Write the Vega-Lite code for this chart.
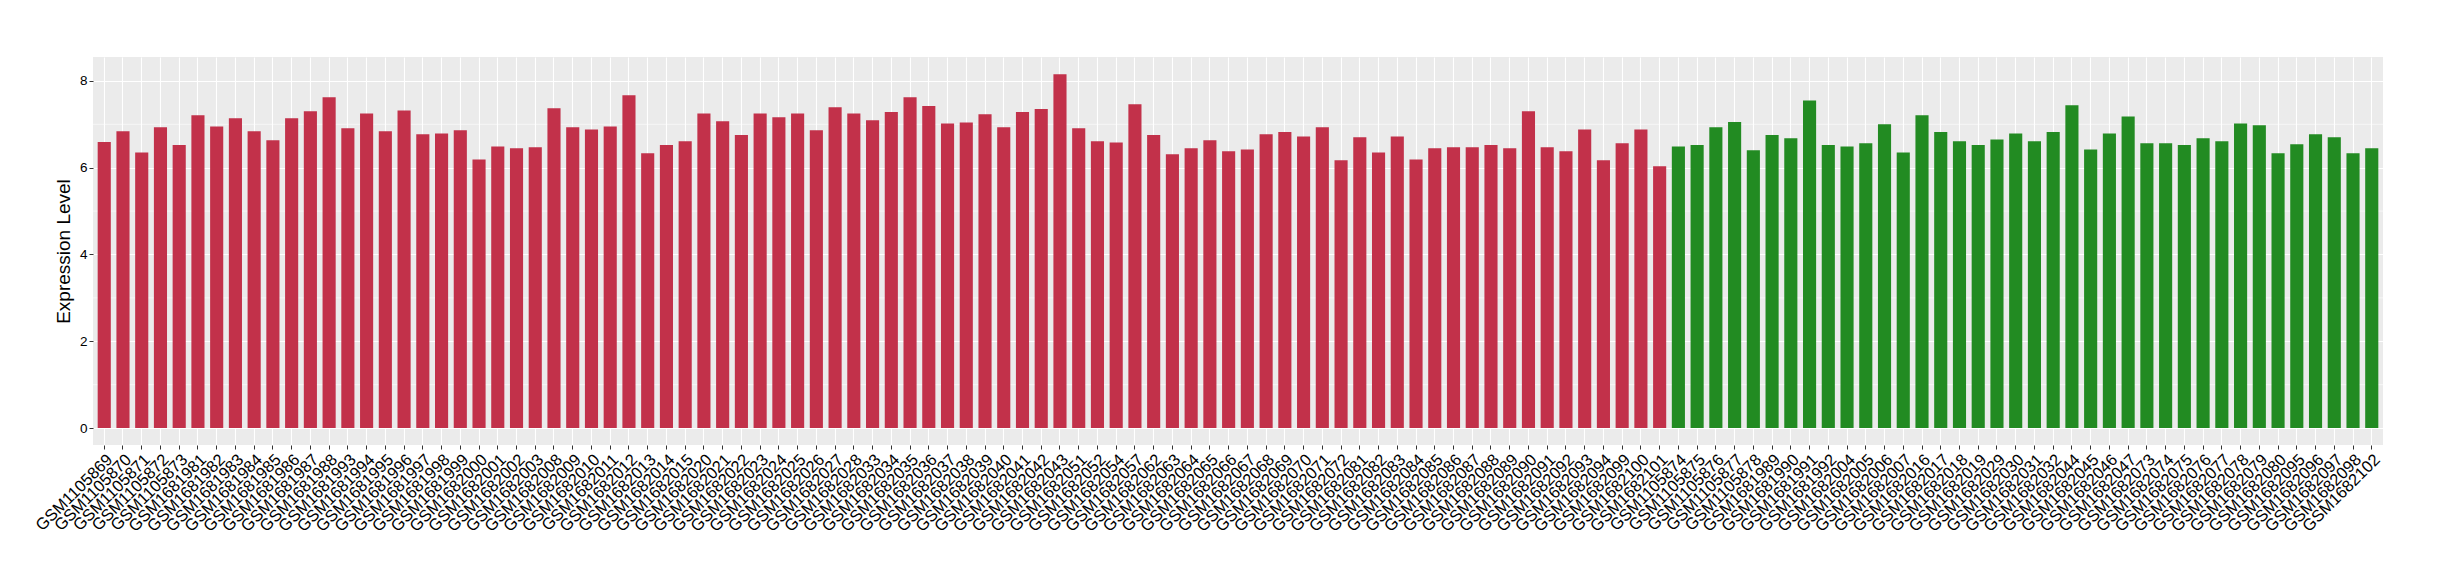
{
  "$schema": "https://vega.github.io/schema/vega-lite/v6.json",
  "autosize": {"type": "none"},
  "width": 2290,
  "height": 388,
  "padding": {"left": 93, "top": 57, "right": 57, "bottom": 135},
  "background": "white",
  "config": {
    "font": "Liberation Sans",
    "view": {"fill": "#EBEBEB", "stroke": null}
  },
  "datasets": {
    "expr": [
      {"sample": "GSM1105869", "value": 6.59, "group": "Group 1"},
      {"sample": "GSM1105870", "value": 6.84, "group": "Group 1"},
      {"sample": "GSM1105871", "value": 6.35, "group": "Group 1"},
      {"sample": "GSM1105872", "value": 6.93, "group": "Group 1"},
      {"sample": "GSM1105873", "value": 6.52, "group": "Group 1"},
      {"sample": "GSM1681981", "value": 7.21, "group": "Group 1"},
      {"sample": "GSM1681982", "value": 6.95, "group": "Group 1"},
      {"sample": "GSM1681983", "value": 7.14, "group": "Group 1"},
      {"sample": "GSM1681984", "value": 6.84, "group": "Group 1"},
      {"sample": "GSM1681985", "value": 6.63, "group": "Group 1"},
      {"sample": "GSM1681986", "value": 7.14, "group": "Group 1"},
      {"sample": "GSM1681987", "value": 7.30, "group": "Group 1"},
      {"sample": "GSM1681988", "value": 7.62, "group": "Group 1"},
      {"sample": "GSM1681993", "value": 6.91, "group": "Group 1"},
      {"sample": "GSM1681994", "value": 7.25, "group": "Group 1"},
      {"sample": "GSM1681995", "value": 6.84, "group": "Group 1"},
      {"sample": "GSM1681996", "value": 7.32, "group": "Group 1"},
      {"sample": "GSM1681997", "value": 6.77, "group": "Group 1"},
      {"sample": "GSM1681998", "value": 6.79, "group": "Group 1"},
      {"sample": "GSM1681999", "value": 6.86, "group": "Group 1"},
      {"sample": "GSM1682000", "value": 6.19, "group": "Group 1"},
      {"sample": "GSM1682001", "value": 6.49, "group": "Group 1"},
      {"sample": "GSM1682002", "value": 6.45, "group": "Group 1"},
      {"sample": "GSM1682003", "value": 6.47, "group": "Group 1"},
      {"sample": "GSM1682008", "value": 7.37, "group": "Group 1"},
      {"sample": "GSM1682009", "value": 6.93, "group": "Group 1"},
      {"sample": "GSM1682010", "value": 6.88, "group": "Group 1"},
      {"sample": "GSM1682011", "value": 6.95, "group": "Group 1"},
      {"sample": "GSM1682012", "value": 7.67, "group": "Group 1"},
      {"sample": "GSM1682013", "value": 6.33, "group": "Group 1"},
      {"sample": "GSM1682014", "value": 6.52, "group": "Group 1"},
      {"sample": "GSM1682015", "value": 6.61, "group": "Group 1"},
      {"sample": "GSM1682020", "value": 7.25, "group": "Group 1"},
      {"sample": "GSM1682021", "value": 7.07, "group": "Group 1"},
      {"sample": "GSM1682022", "value": 6.75, "group": "Group 1"},
      {"sample": "GSM1682023", "value": 7.25, "group": "Group 1"},
      {"sample": "GSM1682024", "value": 7.16, "group": "Group 1"},
      {"sample": "GSM1682025", "value": 7.25, "group": "Group 1"},
      {"sample": "GSM1682026", "value": 6.86, "group": "Group 1"},
      {"sample": "GSM1682027", "value": 7.39, "group": "Group 1"},
      {"sample": "GSM1682028", "value": 7.25, "group": "Group 1"},
      {"sample": "GSM1682033", "value": 7.09, "group": "Group 1"},
      {"sample": "GSM1682034", "value": 7.28, "group": "Group 1"},
      {"sample": "GSM1682035", "value": 7.62, "group": "Group 1"},
      {"sample": "GSM1682036", "value": 7.42, "group": "Group 1"},
      {"sample": "GSM1682037", "value": 7.02, "group": "Group 1"},
      {"sample": "GSM1682038", "value": 7.04, "group": "Group 1"},
      {"sample": "GSM1682039", "value": 7.23, "group": "Group 1"},
      {"sample": "GSM1682040", "value": 6.93, "group": "Group 1"},
      {"sample": "GSM1682041", "value": 7.28, "group": "Group 1"},
      {"sample": "GSM1682042", "value": 7.35, "group": "Group 1"},
      {"sample": "GSM1682043", "value": 8.15, "group": "Group 1"},
      {"sample": "GSM1682051", "value": 6.91, "group": "Group 1"},
      {"sample": "GSM1682052", "value": 6.61, "group": "Group 1"},
      {"sample": "GSM1682054", "value": 6.58, "group": "Group 1"},
      {"sample": "GSM1682057", "value": 7.46, "group": "Group 1"},
      {"sample": "GSM1682062", "value": 6.75, "group": "Group 1"},
      {"sample": "GSM1682063", "value": 6.31, "group": "Group 1"},
      {"sample": "GSM1682064", "value": 6.45, "group": "Group 1"},
      {"sample": "GSM1682065", "value": 6.63, "group": "Group 1"},
      {"sample": "GSM1682066", "value": 6.38, "group": "Group 1"},
      {"sample": "GSM1682067", "value": 6.42, "group": "Group 1"},
      {"sample": "GSM1682068", "value": 6.77, "group": "Group 1"},
      {"sample": "GSM1682069", "value": 6.82, "group": "Group 1"},
      {"sample": "GSM1682070", "value": 6.72, "group": "Group 1"},
      {"sample": "GSM1682071", "value": 6.93, "group": "Group 1"},
      {"sample": "GSM1682072", "value": 6.17, "group": "Group 1"},
      {"sample": "GSM1682081", "value": 6.70, "group": "Group 1"},
      {"sample": "GSM1682082", "value": 6.35, "group": "Group 1"},
      {"sample": "GSM1682083", "value": 6.72, "group": "Group 1"},
      {"sample": "GSM1682084", "value": 6.19, "group": "Group 1"},
      {"sample": "GSM1682085", "value": 6.45, "group": "Group 1"},
      {"sample": "GSM1682086", "value": 6.47, "group": "Group 1"},
      {"sample": "GSM1682087", "value": 6.47, "group": "Group 1"},
      {"sample": "GSM1682088", "value": 6.52, "group": "Group 1"},
      {"sample": "GSM1682089", "value": 6.45, "group": "Group 1"},
      {"sample": "GSM1682090", "value": 7.30, "group": "Group 1"},
      {"sample": "GSM1682091", "value": 6.47, "group": "Group 1"},
      {"sample": "GSM1682092", "value": 6.38, "group": "Group 1"},
      {"sample": "GSM1682093", "value": 6.88, "group": "Group 1"},
      {"sample": "GSM1682094", "value": 6.17, "group": "Group 1"},
      {"sample": "GSM1682099", "value": 6.56, "group": "Group 1"},
      {"sample": "GSM1682100", "value": 6.88, "group": "Group 1"},
      {"sample": "GSM1682101", "value": 6.03, "group": "Group 1"},
      {"sample": "GSM1105874", "value": 6.49, "group": "Group 2"},
      {"sample": "GSM1105875", "value": 6.52, "group": "Group 2"},
      {"sample": "GSM1105876", "value": 6.93, "group": "Group 2"},
      {"sample": "GSM1105877", "value": 7.05, "group": "Group 2"},
      {"sample": "GSM1105878", "value": 6.40, "group": "Group 2"},
      {"sample": "GSM1681989", "value": 6.75, "group": "Group 2"},
      {"sample": "GSM1681990", "value": 6.68, "group": "Group 2"},
      {"sample": "GSM1681991", "value": 7.55, "group": "Group 2"},
      {"sample": "GSM1681992", "value": 6.52, "group": "Group 2"},
      {"sample": "GSM1682004", "value": 6.49, "group": "Group 2"},
      {"sample": "GSM1682005", "value": 6.56, "group": "Group 2"},
      {"sample": "GSM1682006", "value": 7.00, "group": "Group 2"},
      {"sample": "GSM1682007", "value": 6.35, "group": "Group 2"},
      {"sample": "GSM1682016", "value": 7.21, "group": "Group 2"},
      {"sample": "GSM1682017", "value": 6.82, "group": "Group 2"},
      {"sample": "GSM1682018", "value": 6.61, "group": "Group 2"},
      {"sample": "GSM1682019", "value": 6.52, "group": "Group 2"},
      {"sample": "GSM1682029", "value": 6.65, "group": "Group 2"},
      {"sample": "GSM1682030", "value": 6.79, "group": "Group 2"},
      {"sample": "GSM1682031", "value": 6.61, "group": "Group 2"},
      {"sample": "GSM1682032", "value": 6.82, "group": "Group 2"},
      {"sample": "GSM1682044", "value": 7.44, "group": "Group 2"},
      {"sample": "GSM1682045", "value": 6.42, "group": "Group 2"},
      {"sample": "GSM1682046", "value": 6.79, "group": "Group 2"},
      {"sample": "GSM1682047", "value": 7.18, "group": "Group 2"},
      {"sample": "GSM1682073", "value": 6.56, "group": "Group 2"},
      {"sample": "GSM1682074", "value": 6.56, "group": "Group 2"},
      {"sample": "GSM1682075", "value": 6.52, "group": "Group 2"},
      {"sample": "GSM1682076", "value": 6.68, "group": "Group 2"},
      {"sample": "GSM1682077", "value": 6.61, "group": "Group 2"},
      {"sample": "GSM1682078", "value": 7.02, "group": "Group 2"},
      {"sample": "GSM1682079", "value": 6.98, "group": "Group 2"},
      {"sample": "GSM1682080", "value": 6.33, "group": "Group 2"},
      {"sample": "GSM1682095", "value": 6.54, "group": "Group 2"},
      {"sample": "GSM1682096", "value": 6.77, "group": "Group 2"},
      {"sample": "GSM1682097", "value": 6.70, "group": "Group 2"},
      {"sample": "GSM1682098", "value": 6.33, "group": "Group 2"},
      {"sample": "GSM1682102", "value": 6.45, "group": "Group 2"}
    ],
    "minor": [{"m": 1}, {"m": 3}, {"m": 5}, {"m": 7}]
  },
  "layer": [
    {
      "data": {"name": "minor"},
      "mark": {"type": "rule", "color": "#FFFFFF", "strokeWidth": 0.6},
      "encoding": {
        "y": {"field": "m", "type": "quantitative"}
      }
    },
    {
      "data": {"name": "expr"},
      "mark": {"type": "bar"},
      "encoding": {
        "x": {
          "field": "sample",
          "type": "nominal",
          "sort": null,
          "scale": {"paddingInner": 0.3, "paddingOuter": 0.25},
          "axis": {
            "title": null,
            "domain": false,
            "grid": true,
            "gridColor": "#FFFFFF",
            "gridWidth": 1.1,
            "bandPosition": 0.5,
            "ticks": true,
            "tickColor": "#333333",
            "tickSize": 4,
            "tickWidth": 1,
            "labelAngle": -45,
            "labelAlign": "right",
            "labelBaseline": "top",
            "labelFontSize": 16.5,
            "labelColor": "#000000",
            "labelPadding": 2,
            "labelOverlap": false,
            "labelBound": false,
            "labelFlush": false
          }
        },
        "y": {
          "field": "value",
          "type": "quantitative",
          "scale": {"domain": [-0.39, 8.55], "nice": false, "zero": false},
          "axis": {
            "title": "Expression Level",
            "titleFontSize": 19,
            "titleFontWeight": "normal",
            "titleColor": "#000000",
            "titlePadding": 6,
            "values": [0, 2, 4, 6, 8],
            "domain": false,
            "grid": true,
            "gridColor": "#FFFFFF",
            "gridWidth": 1.1,
            "tickColor": "#333333",
            "tickSize": 4,
            "labelFontSize": 13.5,
            "labelColor": "#000000",
            "labelPadding": 2
          }
        },
        "y2": {"datum": 0},
        "color": {
          "field": "group",
          "type": "nominal",
          "scale": {"domain": ["Group 1", "Group 2"], "range": ["#C2314A", "#228B22"]},
          "legend": null
        }
      }
    }
  ]
}
